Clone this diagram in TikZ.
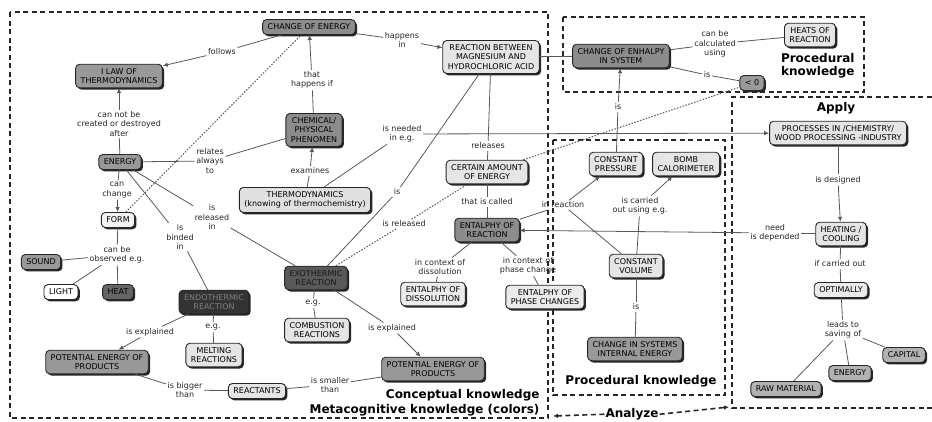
\documentclass[tikz,border=0pt]{standalone}
\usepackage{fontspec}
\setmainfont{DejaVu Sans}
\usetikzlibrary{shadows,arrows.meta}

\begin{document}
\begin{tikzpicture}[x=1pt,y=-1pt,font=\fontsize{8}{9.5}\selectfont,
  >={Latex[length=5pt,width=4.5pt]}]

        \useasboundingbox (0,0) rectangle (932,421);

        % knowledge frames
        \begin{scope}[line width=1.6pt, black!85, dash pattern=on 5pt off 3.5pt]
          \draw (10,12) rectangle (548,418);
          \draw (563,17) rectangle (864,92);
          \draw (553,140) rectangle (725,395);
          \draw (940,97) -- (732,97) -- (732,408) -- (940,408);
        \end{scope}

        \begin{scope}[every node/.style={font=\fontsize{12}{13}\selectfont\bfseries, align=right}]
          \node[anchor=east] (k1) at (543,395) {Conceptual knowledge};
          \node[anchor=east] (k2) at (543,410) {Metacognitive knowledge (colors)};
          \node[anchor=east] (k3) at (858,66)  {Procedural\\knowledge};
          \node (k4) at (641,381) {Procedural knowledge};
          \node (k5) at (836,108) {Apply};
          \node[anchor=base, inner sep=1pt] (k6) at (632,417.5) {Analyze};
        \end{scope}

        \coordinate (a1) at (553,416);
        \coordinate (a2) at (729,407);
        \begin{scope}[line width=1.6pt, black!85, dash pattern=on 5pt off 3.5pt]
          \draw[->] (k6.west) -- (a1);
          \draw[->] (k6.east) -- (a2);
        \end{scope}

        \begin{scope}[every node/.style={draw=black!85, line width=0.9pt, rounded corners=4pt,
            align=center, inner xsep=5pt, inner ysep=4pt, minimum height=15pt,
            drop shadow={shadow xshift=1.8pt, shadow yshift=-1.8pt, fill=black!85, opacity=1}}]
          \node[fill=black!45] (1)  at (309,27)  {CHANGE OF ENERGY};
          \node[fill=black!40] (2)  at (119,76)  {I LAW OF\\THERMODYNAMICS};
          \node[fill=black!40] (3)  at (120,162) {ENERGY};
          \node[fill=black!45] (4)  at (314,130) {CHEMICAL/\\PHYSICAL\\PHENOMEN};
          \node[fill=black!12] (5)  at (305,200) {THERMODYNAMICS\\(knowing of thermochemistry)};
          \node[fill=black!10] (6)  at (491,57)  {REACTION BETWEEN\\MAGNESIUM AND\\HYDROCHLORIC ACID};
          \node[fill=black!10] (7)  at (487,172) {CERTAIN AMOUNT\\OF ENERGY};
          \node[fill=black!65, text=black!90] (8) at (316,278) {EXOTHERMIC\\REACTION};
          \node[fill=black!80, text=black!50] (9) at (214,302) {ENDOTHERMIC\\REACTION};
          \node[fill=black!5]  (10) at (118,220) {FORM};
          \node[fill=black!40] (11) at (41,262)  {SOUND};
          \node[fill=white]    (12) at (61,292)  {LIGHT};
          \node[fill=black!60] (13) at (118,292) {HEAT};
          \node[fill=black!10] (14) at (214,355) {MELTING\\REACTIONS};
          \node[fill=black!40] (15) at (97,362)  {POTENTIAL ENERGY OF\\PRODUCTS};
          \node[fill=black!10] (16) at (257,391) {REACTANTS};
          \node[fill=black!40] (17) at (433,369) {POTENTIAL ENERGY OF\\PRODUCTS};
          \node[fill=black!10] (18) at (317,330) {COMBUSTION\\REACTIONS};
          \node[fill=black!45] (19) at (487,230) {ENTALPHY OF\\REACTION};
          \node[fill=black!8]  (20) at (433,294) {ENTALPHY OF\\DISSOLUTION};
          \node[fill=black!8]  (21) at (545,297) {ENTALPHY OF\\PHASE CHANGES};
          \node[fill=black!10] (22) at (616,164) {CONSTANT\\PRESSURE};
          \node[fill=black!10] (23) at (686,164) {BOMB\\CALORIMETER};
          \node[fill=black!10] (24) at (636,266) {CONSTANT\\VOLUME};
          \node[fill=black!40] (25) at (635,349) {CHANGE IN SYSTEMS\\INTERNAL ENERGY};
          \node[fill=black!45] (26) at (621,56)  {CHANGE OF ENHALPY\\IN SYSTEM};
          \node[fill=black!10] (27) at (810,35)  {HEATS OF\\REACTION};
          \node[fill=black!40] (28) at (752,83)  {< 0};
          \node[fill=black!10] (29) at (838,133) {PROCESSES IN /CHEMISTRY/\\WOOD PROCESSING -INDUSTRY};
          \node[fill=black!10] (30) at (841,234) {HEATING /\\COOLING};
          \node[fill=black!8]  (31) at (841,290) {OPTIMALLY};
          \node[fill=black!30] (32) at (904,355) {CAPITAL};
          \node[fill=black!30] (33) at (850,373) {ENERGY};
          \node[fill=black!30] (34) at (786,389) {RAW MATERIAL};
        \end{scope}

        \begin{scope}[every node/.style={align=center, inner sep=1.5pt, text=black!85}]

          \node (t1)  at (222,52)  {follows};
          \node (t2)  at (312,80)  {that\\happens if};
          \node (t3)  at (119,124) {can not be\\created or destroyed\\after};
          \node (t4)  at (210,161) {relates\\always\\to};
          \node (t5)  at (310,171) {examines};
          \node (t6)  at (402,40)  {happens\\in};
          \node (t7)  at (402,134) {is needed\\in e.g.};
          \node (t8)  at (488,146) {releases};
          \node (t9)  at (397,192) {is};
          \node (t10) at (404,224) {is released};
          \node (t11) at (117,190) {can\\change};
          \node (t12) at (117,255) {can be\\observed e.g.};
          \node (t13) at (212,217) {is\\released\\in};
          \node (t14) at (180,237) {is\\binded\\in};
          \node (t15) at (150,332) {is explained};
          \node (t16) at (213,327) {e.g.};
          \node (t17) at (185,390) {is bigger\\than};
          \node (t18) at (330,385) {is smaller\\than};
          \node (t19) at (392,328) {is explained};
          \node (t20) at (313,303) {e.g.};
          \node (t21) at (487,202) {that is called};
          \node (t22) at (440,267) {in context of\\dissolution};
          \node (t23) at (528,266) {in context of\\phase change};
          \node (t24) at (563,205) {in reaction};
          \node (t25) at (640,206) {is carried\\out using e.g.};
          \node (t26) at (636,307) {is};
          \node (t27) at (618,107) {is};
          \node (t28) at (715,44)  {can be\\calculated\\using};
          \node (t29) at (707,75)  {is};
          \node (t30) at (838,180) {is designed};
          \node (t31) at (775,233) {need\\is depended};
          \node (t32) at (840,264) {if carried out};
          \node (t33) at (843,330) {leads to\\saving of};

          \begin{scope}[every edge/.style={draw, black!65, line width=0.8pt},
              dotlink/.style={dash pattern=on 1.5pt off 1.5pt, line width=1pt}]
            \path (1)  edge (t1);
            \path (t1) edge[->] (2);
            \path (1)  edge (t6);
            \path (t6) edge[->] (6);
            \path (4)  edge (t2);
            \path (t2) edge[->] (1);
            \path (5)  edge (t5);
            \path (t5) edge[->] (4);
            \path (3)  edge (t3);
            \path (t3) edge[->] (2);
            \path (3)  edge (t4);
            \path (t4) edge (4);
            \path (3)  edge (t11);
            \path (t11) edge[->] (10);
            \path (3)  edge (t13);
            \path (t13) edge (8);
            \path (3)  edge (t14);
            \path (t14) edge (9);
            \path (10) edge (t12);
            \path (t12) edge (13);
            \path (t12) edge (11);
            \path (t12) edge (12);
            \path (10) edge[dotlink] (1);
            \path (9)  edge (t15);
            \path (t15) edge[->] (15);
            \path (9)  edge (t16);
            \path (t16) edge (14);
            \path (15) edge (t17);
            \path (t17) edge (16);
            \path (16) edge (t18);
            \path (t18) edge (17);
            \path (8)  edge (t19);
            \path (t19) edge[->] (17);
            \path (8)  edge (t20);
            \path (t20) edge (18);
            \path (8)  edge[dotlink] (t10);
            \path (t10) edge[dotlink] (7);
            \path (6)  edge (t9);
            \path (t9) edge (8);
            \path (6)  edge (t8);
            \path (t8) edge (7);
            \path (7)  edge (t21);
            \path (t21) edge (19);
            \path (7)  edge[dotlink] (28);
            \path (19) edge (t22);
            \path (t22) edge (20);
            \path (19) edge (t23);
            \path (t23) edge (21);
            \path (19) edge (t24);
            \path (t24) edge[->] (22);
            \path (t24) edge (24);
            \path (24) edge (t25);
            \path (t25) edge[->] (23);
            \path (24) edge (t26);
            \path (t26) edge (25);
            \path (22) edge (t27);
            \path (t27) edge[->] (26);
            \path (6)  edge (26);
            \path (26) edge (t28);
            \path (t28) edge (27);
            \path (26) edge (t29);
            \path (t29) edge (28);
            \path (5)  edge (t7);
            \path (t7) edge[->] (29);
            \path (29) edge (t30);
            \path (t30) edge[->] (30);
            \path (30) edge (t31);
            \path (t31) edge[->] (19);
            \path (30) edge (t32);
            \path (t32) edge (31);
            \path (31) edge (t33);
            \path (t33) edge (34);
            \path (t33) edge (33);
            \path (t33) edge (32);
          \end{scope}
        \end{scope}

      \end{tikzpicture}
\end{document}
